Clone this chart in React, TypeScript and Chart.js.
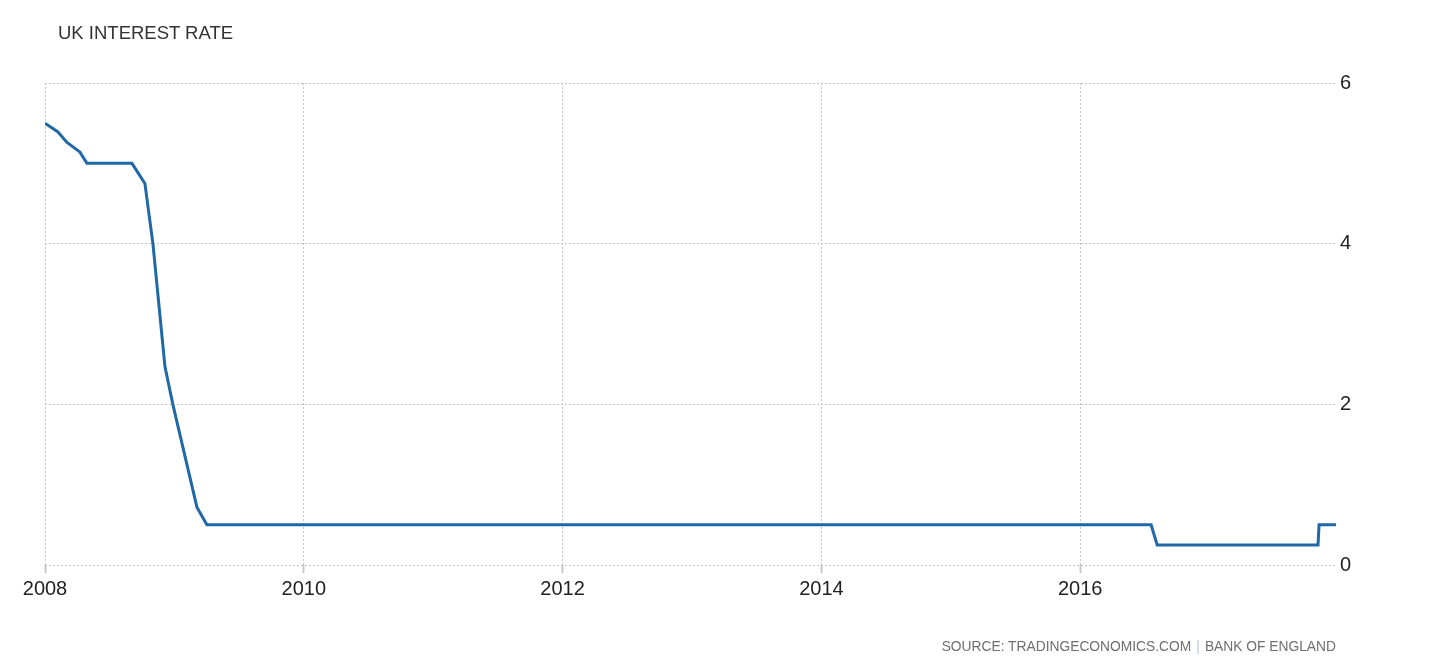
import React, { useEffect, useRef } from "react";
import { Chart, registerables } from "chart.js";

Chart.register(...registerables);

const TITLE = "UK INTEREST RATE";
const SOURCE_LEFT = "SOURCE: TRADINGECONOMICS.COM";
const SOURCE_RIGHT = "BANK OF ENGLAND";

// decimal years
const years = [
  2008.0, 2008.1, 2008.17, 2008.27, 2008.324, 2008.672, 2008.772, 2008.834,
  2008.927, 2008.988, 2009.174, 2009.251, 2016.548, 2016.595, 2017.838,
  2017.846, 2017.977,
];
const rates = [
  5.5, 5.39, 5.26, 5.14, 5.0, 5.0, 4.75, 4.0, 2.47, 2.0, 0.72, 0.5, 0.5, 0.25,
  0.25, 0.5, 0.5,
];
const xTicks = [2008, 2010, 2012, 2014, 2016];
const yTicks = [0, 2, 4, 6];

const FONT = "'Liberation Sans', Arial, sans-serif";

export default function App() {
  const ref = useRef<HTMLCanvasElement | null>(null);

  useEffect(() => {
    if (!ref.current) return;
    const chart = new Chart(ref.current, {
      type: "line",
      data: {
        datasets: [
          {
            data: years.map((x, i) => ({ x, y: rates[i] })),
            borderColor: "#2168a6",
            borderWidth: 3,
            pointRadius: 0,
            tension: 0,
            fill: false,
          },
        ],
      },
      options: {
        animation: false,
        responsive: false,
        devicePixelRatio: 1,
        layout: { padding: { top: 83, left: 45, right: 0, bottom: 0 } },
        plugins: {
          legend: { display: false },
          tooltip: { enabled: false },
          title: { display: false },
        },
        scales: {
          x: {
            type: "linear",
            min: 2008,
            max: 2017.977,
            afterBuildTicks: (scale: any) => {
              scale.ticks = xTicks.map((v) => ({ value: v }));
            },
            afterFit: (scale: any) => {
              scale.height = 106;
            },
            border: { display: false, dash: [2, 2] },
            grid: {
              color: "#c4c4c4",
              lineWidth: 1,
              drawTicks: true,
              tickLength: 8,
              tickColor: "#c8c8c8",
              tickWidth: 2,
              tickBorderDash: [],
            },
            ticks: {
              color: "#222",
              font: { family: FONT, size: 20 },
              padding: 4,
              maxRotation: 0,
              autoSkip: false,
              callback: (v: any) => String(v),
            },
          },
          y: {
            position: "right",
            min: 0,
            max: 6,
            afterBuildTicks: (scale: any) => {
              scale.ticks = yTicks.map((v) => ({ value: v }));
            },
            afterFit: (scale: any) => {
              scale.width = 112;
            },
            border: { display: false, dash: [2, 2] },
            grid: {
              color: "#c4c4c4",
              lineWidth: 1,
              drawTicks: false,
            },
            ticks: {
              color: "#222",
              font: { family: FONT, size: 20 },
              padding: 4,
              callback: (v: any) => String(v),
            },
          },
        },
      },
    });
    return () => chart.destroy();
  }, []);

  return (
    <div
      style={{
        position: "absolute",
        left: 0,
        top: 0,
        width: 1448,
        height: 671,
        background: "#fff",
        fontFamily: FONT,
      }}
    >
      <canvas ref={ref} width={1448} height={671} style={{ display: "block" }} />
      <div
        style={{
          position: "absolute",
          left: 58,
          top: 21,
          fontSize: 18.5,
          color: "#333",
          whiteSpace: "nowrap",
          lineHeight: "24px",
        }}
      >
        {TITLE}
      </div>
      <div
        style={{
          position: "absolute",
          right: 112,
          top: 638,
          fontSize: 13.8,
          color: "#6f6f6f",
          whiteSpace: "nowrap",
          lineHeight: "18px",
        }}
      >
        {SOURCE_LEFT}
        <span style={{ color: "#b5c3d6", margin: "0 5px" }}>|</span>
        {SOURCE_RIGHT}
      </div>
    </div>
  );
}
